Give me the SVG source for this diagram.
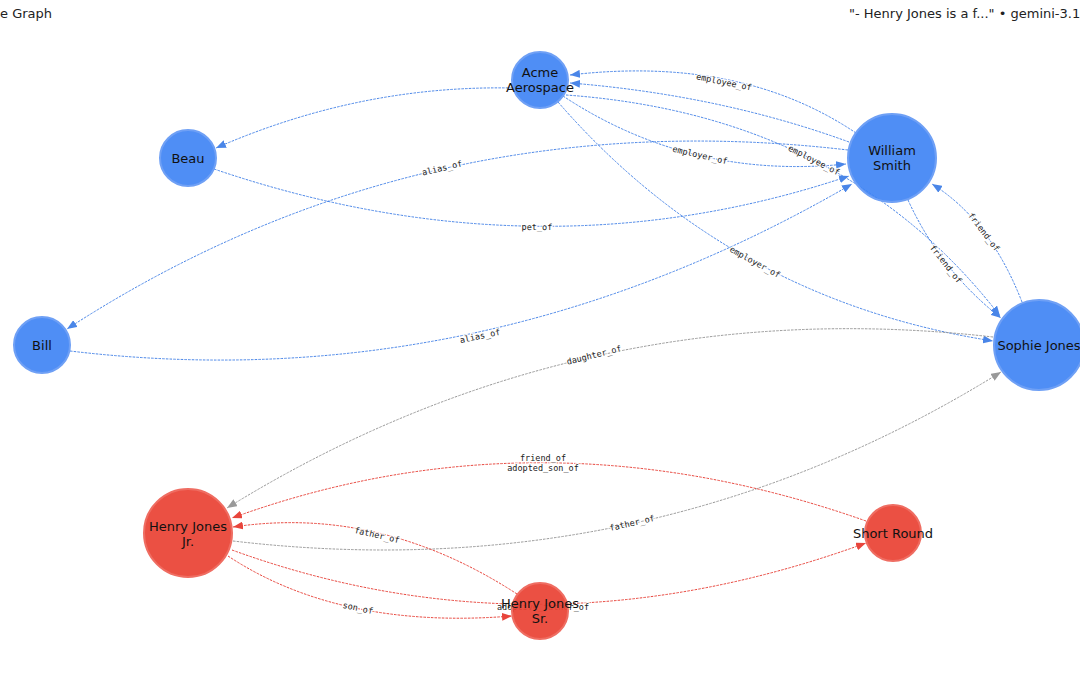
<svg xmlns="http://www.w3.org/2000/svg" width="1080" height="675" viewBox="0 0 1080 675">
<style>
.t{font-family:"DejaVu Sans","Liberation Sans",sans-serif;font-size:13px;fill:#222}
.e{fill:none;stroke-width:1;stroke-dasharray:2.5 1.2}
.b{stroke:#4a86e8}
.g{stroke:#999}
.r{stroke:#e8453c}
.el{font-family:"DejaVu Sans Mono","Liberation Mono",monospace;font-size:8.5px;fill:#222;text-anchor:middle;dominant-baseline:central;stroke:#fff;stroke-width:2.5;stroke-opacity:0.8;paint-order:stroke}
.nb{fill:#4285f4;fill-opacity:0.93;stroke:#6fa0f5;stroke-width:2}
.nr{fill:#ea4335;fill-opacity:0.93;stroke:#ef6d62;stroke-width:2}
.nl{font-family:"DejaVu Sans","Liberation Sans",sans-serif;font-size:13px;fill:#111;text-anchor:middle}
</style>
<defs>
<marker id="ab" viewBox="0 0 10 8" refX="10" refY="4" markerWidth="10" markerHeight="8" markerUnits="userSpaceOnUse" orient="auto"><path d="M0,0 L10,4 L0,8 z" fill="#4a86e8"/></marker>
<marker id="ag" viewBox="0 0 10 8" refX="10" refY="4" markerWidth="10" markerHeight="8" markerUnits="userSpaceOnUse" orient="auto"><path d="M0,0 L10,4 L0,8 z" fill="#999"/></marker>
<marker id="ar" viewBox="0 0 10 8" refX="10" refY="4" markerWidth="10" markerHeight="8" markerUnits="userSpaceOnUse" orient="auto"><path d="M0,0 L10,4 L0,8 z" fill="#e8453c"/></marker>
</defs>
<rect width="1080" height="675" fill="#fff"/>
<text class="t" x="0" y="18">e Graph</text>
<text class="t" x="849" y="18">"- Henry Jones is a f..." • gemini-3.1</text>
<g id="edges">
<path class="e b" d="M512 88 Q360 85 216 148" marker-end="url(#ab)"/>
<path class="e b" d="M856 133 Q740 55 570 75" marker-end="url(#ab)"/>
<path class="e b" d="M849 142 Q720 95 570 83" marker-end="url(#ab)"/>
<path class="e b" d="M563 96 Q690 180 846 164" marker-end="url(#ab)"/>
<path class="e b" d="M566 95 Q845 115 1000 316" marker-end="url(#ab)"/>
<path class="e b" d="M558 102 Q730 300 993 341" marker-end="url(#ab)"/>
<path class="e b" d="M214 169 Q540 280 849 176" marker-end="url(#ab)"/>
<path class="e b" d="M848 150 Q420 100 67 329" marker-end="url(#ab)"/>
<path class="e b" d="M70 351 Q480 400 852 184" marker-end="url(#ab)"/>
<path class="e b" d="M908 200 Q940 270 1001 318" marker-end="url(#ab)"/>
<path class="e b" d="M1022 302 Q990 220 932 184" marker-end="url(#ab)"/>
<path class="e g" d="M993 337 Q580 290 227 508" marker-end="url(#ag)"/>
<path class="e g" d="M233 541 Q650 590 1001 372" marker-end="url(#ag)"/>
<path class="e r" d="M866 521 Q540 406 232 518" marker-end="url(#ar)"/>
<path class="e r" d="M517 594 Q380 505 233 527" marker-end="url(#ar)"/>
<path class="e r" d="M228 556 Q340 630 512 616" marker-end="url(#ar)"/>
<path class="e r" d="M232 550 Q540 662 866 543" marker-end="url(#ar)"/>
<text class="el" transform="translate(724 82) rotate(11.5)">employee_of</text>
<text class="el" transform="translate(700 155) rotate(13)">employer_of</text>
<text class="el" transform="translate(814 160) rotate(27)">employee_of</text>
<text class="el" transform="translate(755 262) rotate(28.7)">employer_of</text>
<text class="el" transform="translate(537 227) rotate(0.6)">pet_of</text>
<text class="el" transform="translate(442 168) rotate(-13)">alias_of</text>
<text class="el" transform="translate(480 336) rotate(-12)">alias_of</text>
<text class="el" transform="translate(946 264) rotate(52)">friend_of</text>
<text class="el" transform="translate(984 232) rotate(53)">friend_of</text>
<text class="el" transform="translate(594 355) rotate(-14)">daughter_of</text>
<text class="el" transform="translate(632 523) rotate(-13)">father_of</text>
<text class="el" transform="translate(543 458)">friend_of</text>
<text class="el" transform="translate(543 468)">adopted_son_of</text>
<text class="el" transform="translate(377 535) rotate(13)">father_of</text>
<text class="el" transform="translate(358 608) rotate(12)">son_of</text>
<text class="el" transform="translate(543 607)">adoptive_father_of</text>
</g>
<g id="acme"><circle class="nb" cx="540" cy="80" r="28"/><text class="nl" x="540" y="77">Acme</text><text class="nl" x="540" y="92">Aerospace</text></g>
<g id="beau"><circle class="nb" cx="188" cy="158" r="28"/><text class="nl" x="188" y="162.5">Beau</text></g>
<g id="william"><circle class="nb" cx="892" cy="158" r="44"/><text class="nl" x="892" y="154.5">William</text><text class="nl" x="892" y="169.5">Smith</text></g>
<g id="bill"><circle class="nb" cx="42" cy="345" r="28"/><text class="nl" x="42" y="349.5">Bill</text></g>
<g id="sophie"><circle class="nb" cx="1039" cy="345" r="45"/><text class="nl" x="1039" y="349.5">Sophie Jones</text></g>
<g id="henryjr"><circle class="nr" cx="188" cy="533" r="44"/><text class="nl" x="188" y="530.5">Henry Jones</text><text class="nl" x="188" y="545.5">Jr.</text></g>
<g id="shortround"><circle class="nr" cx="893" cy="533" r="28"/><text class="nl" x="893" y="537.5">Short Round</text></g>
<g id="henrysr"><circle class="nr" cx="540" cy="611" r="28"/><text class="nl" x="540" y="608">Henry Jones</text><text class="nl" x="540" y="623">Sr.</text></g>
</svg>
